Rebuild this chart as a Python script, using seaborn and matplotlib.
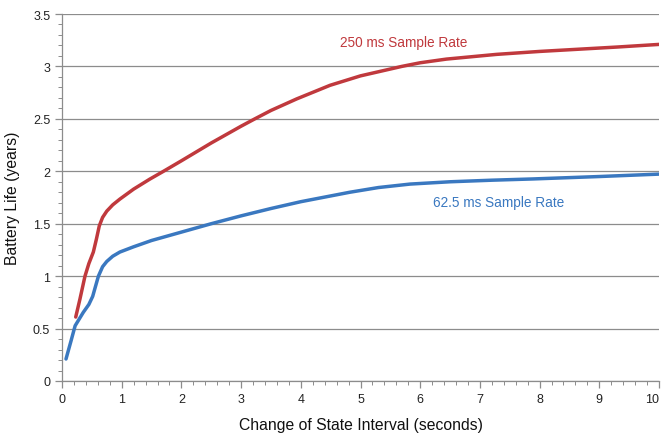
import matplotlib
matplotlib.use("Agg")
import matplotlib.pyplot as plt
from matplotlib.ticker import MultipleLocator
import seaborn as sns
import pandas as pd

# Data
x_250 = [0.23, 0.30, 0.385, 0.45, 0.525, 0.575, 0.625, 0.68, 0.75, 0.85, 0.97, 1.2, 1.47, 1.7, 2.0, 2.5, 3.0, 3.23, 3.5, 3.93, 4.49, 5.0, 5.69, 6.0, 6.44, 7.0, 7.28, 8.0, 8.68, 9.3, 10.0]
y_250 = [0.61, 0.78, 1.00, 1.12, 1.23, 1.35, 1.48, 1.56, 1.62, 1.68, 1.735, 1.83, 1.925, 2.00, 2.10, 2.27, 2.43, 2.50, 2.58, 2.69, 2.82, 2.91, 3.00, 3.035, 3.07, 3.10, 3.115, 3.143, 3.165, 3.185, 3.21]
x_625 = [0.067, 0.15, 0.22, 0.357, 0.45, 0.514, 0.56, 0.61, 0.68, 0.75, 0.85, 0.97, 1.2, 1.5, 2.0, 2.5, 3.0, 3.5, 4.0, 4.82, 5.3, 5.83, 6.5, 7.2, 7.89, 9.0, 10.0]
y_625 = [0.21, 0.38, 0.527, 0.655, 0.73, 0.807, 0.90, 1.00, 1.09, 1.14, 1.19, 1.23, 1.28, 1.34, 1.42, 1.50, 1.575, 1.645, 1.71, 1.80, 1.845, 1.878, 1.90, 1.915, 1.927, 1.95, 1.973]
series_labels = ["250 ms Sample Rate", "62.5 ms Sample Rate"]
x_label = "Change of State Interval (seconds)"
y_label = "Battery Life (years)"
x_ticks = list(range(0, 11))
y_ticks = [0, 0.5, 1, 1.5, 2, 2.5, 3, 3.5]
y_tick_labels = ["0", "0.5", "1", "1.5", "2", "2.5", "3", "3.5"]

red = "#C0393D"
blue = "#3A78C0"

sns.set_theme(style="white")
plt.rcParams["font.family"] = ["Liberation Sans Narrow", "Liberation Sans", "DejaVu Sans"]

df = pd.concat([
    pd.DataFrame({"x": x_250, "y": y_250, "s": series_labels[0]}),
    pd.DataFrame({"x": x_625, "y": y_625, "s": series_labels[1]}),
])

fig = plt.figure(figsize=(6.62, 4.35), dpi=100)
ax = fig.add_axes([62/662, 1 - 382/435, 597/662, 367/435])
sns.lineplot(data=df, x="x", y="y", hue="s", palette=[red, blue], linewidth=2.5,
             legend=False, ax=ax, sort=False)
for ln in ax.lines:
    ln.set_solid_joinstyle("round")
    ln.set_solid_capstyle("round")

ax.set_xlim(0, 10)
ax.set_ylim(0, 3.5)
ax.set_xticks(x_ticks)
ax.set_xticklabels([str(v) for v in x_ticks])
ax.xaxis.set_minor_locator(MultipleLocator(0.2))
ax.yaxis.set_minor_locator(MultipleLocator(0.1))
ax.set_yticks(y_ticks)
ax.set_yticklabels(y_tick_labels)
ax.grid(axis="y", which="major", color="#8c8c8c", linewidth=0.9)
ax.set_axisbelow(True)
for s in ["top", "right"]:
    ax.spines[s].set_visible(False)
for s in ["left", "bottom"]:
    ax.spines[s].set_color("#8c8c8c")
    ax.spines[s].set_linewidth(0.9)
ax.tick_params(which="both", direction="out", color="#8c8c8c", labelsize=9, labelcolor="#222222")
ax.tick_params(which="major", length=5, width=0.9, bottom=True, left=True)
ax.tick_params(which="minor", length=3, width=0.7, bottom=True, left=True)
ax.tick_params(axis="x", pad=4)

ax.xaxis.get_major_ticks()[-1].label1.set_horizontalalignment("right")
ax.xaxis.get_major_ticks()[-1].label1.set_x(10.02)

ax.set_xlabel(x_label, fontsize=11.3, color="#111111", labelpad=8)
ax.set_ylabel(y_label, fontsize=11.3, color="#111111", labelpad=9)

ax.text(5.73, 3.23, series_labels[0], color=red, fontsize=9.8, ha="center", va="center")
ax.text(7.32, 1.71, series_labels[1], color=blue, fontsize=9.8, ha="center", va="center")

fig.savefig("out.png", dpi=100)
